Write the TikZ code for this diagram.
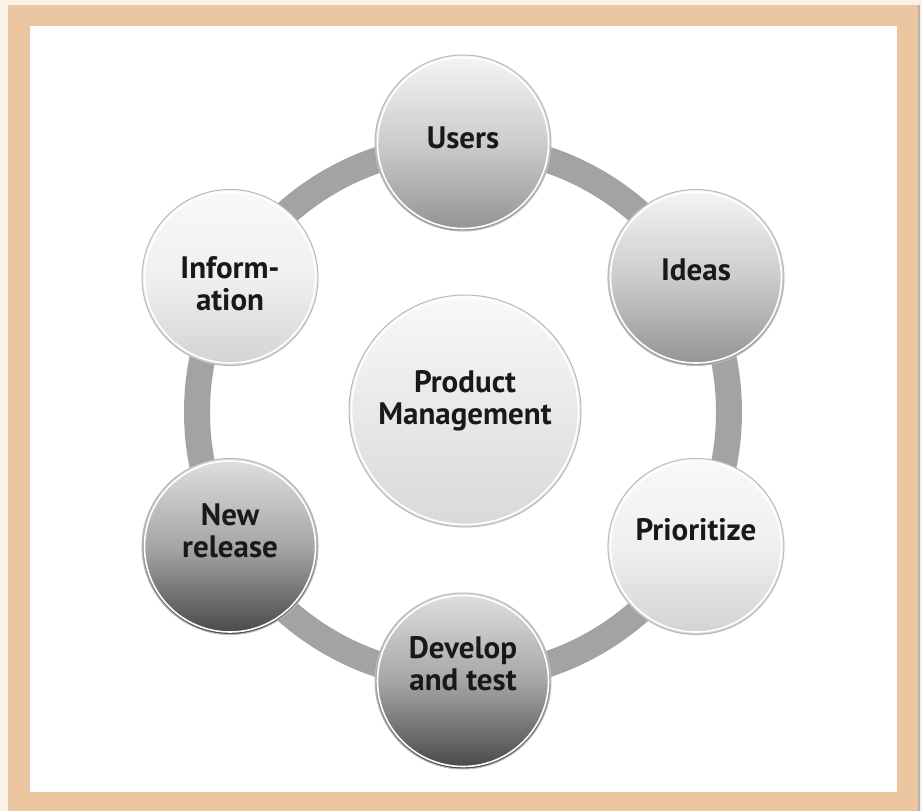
\documentclass[tikz,border=0pt]{standalone}
\usepackage{fontspec}
\setmainfont{PT Sans}
\newcommand{\liftup}[2]{\raisebox{#1}[\height][\depth]{\begin{tabular}{@{}c@{}}#2\end{tabular}}}
\begin{document}
\begin{tikzpicture}[x=1pt,y=-1pt,
  ball/.style={circle,minimum size=176pt,inner sep=0pt,draw=gray!55,line width=1pt,
    font=\fontsize{31}{32}\selectfont\bfseries,text=black!90,align=center},
  light/.style={ball,top color=white!95!gray,bottom color=gray!35,middle color=gray!12},
  medium/.style={ball,top color=white!92!gray,bottom color=gray!85,middle color=gray!40},
  dark/.style={ball,top color=gray!25,bottom color=black!72,middle color=gray!70},
  ring/.style={draw=gray!72,line width=26pt},
  rim/.style={draw=white,line width=1.6pt}]
\useasboundingbox (0,0) rectangle (922,811);
\fill[fill={rgb,255:red,251;green,241;blue,230}] (0,0) rectangle (922,811);
\fill[fill={rgb,255:red,236;green,198;blue,160}] (8,5) rectangle (918,811);
\fill[white] (30,26) rectangle (897,792);
\draw[gray!60,line width=1.5pt] (919,5) -- (919,811);
\coordinate (o) at (463,412);
\draw[ring] (o) circle[radius=266];
\node[light,minimum size=232pt,top color=white!95!gray,bottom color=gray!30] (pm) at (465,411) {\liftup{8.5pt}{Product\\Management}};
\node[medium] (users) at ([shift={(-90:269)}]o) {\liftup{0.5pt}{Users}};
\node[medium] (ideas) at ([shift={(-30:269)}]o) {\liftup{3.5pt}{Ideas}};
\node[light] (prio) at ([shift={(30:269)}]o) {\liftup{12.5pt}{Prioritize}};
\node[dark] (dev) at ([shift={(90:269)}]o) {\liftup{13pt}{Develop\\and test}};
\node[dark] (rel) at ([shift={(150:269)}]o) {\liftup{11pt}{New\\release}};
\node[light] (info) at ([shift={(-150:269)}]o) {\liftup{-11pt}{Inform-\\ation}};
\foreach \n in {users,ideas,prio,dev,rel,info}{
  \draw[rim] (\n.center) circle[radius=85.5];
}
\draw[rim] (pm.center) circle[radius=113.5];
\end{tikzpicture}
\end{document}
